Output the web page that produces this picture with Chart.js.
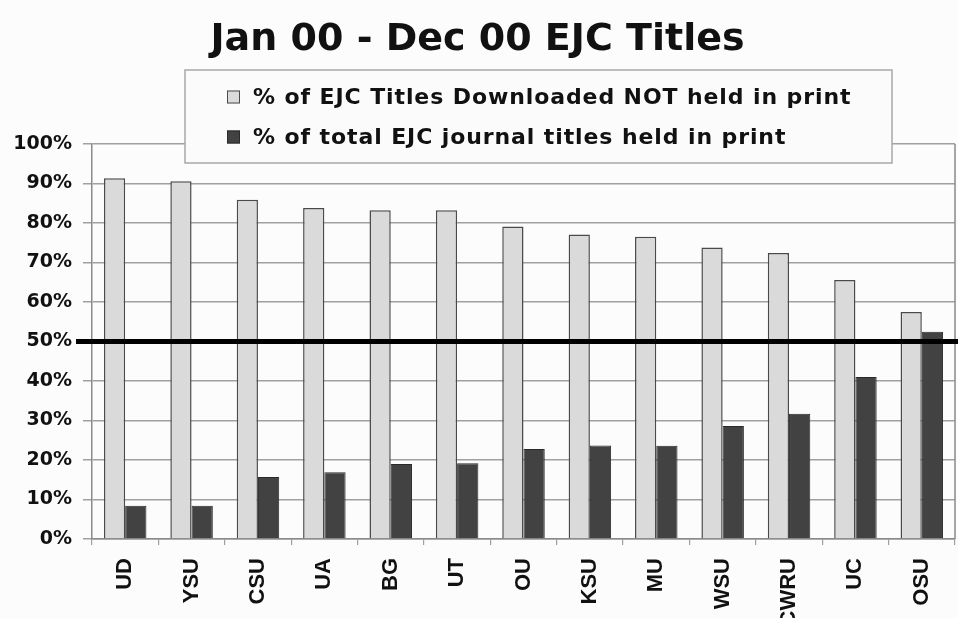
<!DOCTYPE html>
<html>
<head>
<meta charset="utf-8">
<title>Jan 00 - Dec 00 EJC Titles</title>
<script src="https://cdn.jsdelivr.net/npm/chart.js@4.4.1/dist/chart.umd.min.js"></script>
<style>
  html, body { margin: 0; padding: 0; background: #fcfcfc; }
  canvas { display: block; }
</style>
</head>
<body>
<canvas id="chart" width="958" height="618"></canvas>
<script>
// Institutions, in the order they are plotted
const categories = ['UD', 'YSU', 'CSU', 'UA', 'BG', 'UT', 'OU', 'KSU', 'MU', 'WSU', 'CWRU', 'UC', 'OSU'];

// % of EJC titles downloaded that are NOT held in print
const pctDownloadedNotInPrint = [91.3, 90.6, 85.9, 83.8, 83.2, 83.2, 79.1, 77.1, 76.5, 73.8, 72.4, 65.6, 57.5];

// % of total EJC journal titles held in print
const pctHeldInPrint = [8.4, 8.4, 15.7, 16.9, 19.0, 19.2, 22.8, 23.7, 23.6, 28.6, 31.7, 41.0, 52.5];

const seriesNames = [
  '% of EJC Titles Downloaded NOT held in print',
  '% of total EJC journal titles held in print'
];

// Percent axis: 0% .. 100% in steps of 10
const yMin = 0;
const yMax = 100;
const yStep = 10;

// Reference line drawn across the plot
const referenceLevel = 50;

const LIGHT_FILL = '#dadada';
const LIGHT_EDGE = '#4a4a4a';
const DARK_FILL = '#424242';
const DARK_EDGE = '#2a2a2a';
const GRID = '#a0a0a0';
const TEXT = '#111111';

// Page background
const backgroundPlugin = {
  id: 'background',
  beforeDraw(chart) {
    const { ctx, width, height } = chart;
    ctx.save();
    ctx.fillStyle = '#fcfcfc';
    ctx.fillRect(0, 0, width, height);
    ctx.restore();
  }
};

// Right frame edge and the heavy 50% line across the bars
const frameAndLinePlugin = {
  id: 'frameAndLine',
  afterDatasetsDraw(chart) {
    const { ctx, chartArea, width } = chart;
    const y = chart.scales.y.getPixelForValue(referenceLevel);
    ctx.save();
    ctx.strokeStyle = '#8a8a8a';
    ctx.lineWidth = 1.5;
    ctx.beginPath();
    ctx.moveTo(chartArea.right, chartArea.top);
    ctx.lineTo(chartArea.right, chartArea.bottom);
    ctx.stroke();

    ctx.strokeStyle = '#000000';
    ctx.lineWidth = 5;
    ctx.beginPath();
    ctx.moveTo(chartArea.left - 16, y);
    ctx.lineTo(width, y);
    ctx.stroke();
    ctx.restore();
  }
};

// Boxed legend overlapping the top of the plot
const boxedLegendPlugin = {
  id: 'boxedLegend',
  afterDraw(chart) {
    const { ctx } = chart;
    const box = { x: 185, y: 70, w: 707, h: 93 };
    ctx.save();
    ctx.fillStyle = '#fbfbfb';
    ctx.fillRect(box.x, box.y, box.w, box.h);
    ctx.strokeStyle = '#a8a8a8';
    ctx.lineWidth = 1.5;
    ctx.strokeRect(box.x, box.y, box.w, box.h);

    const rows = [97, 137];
    chart.data.datasets.forEach((ds, i) => {
      const cy = rows[i];
      ctx.fillStyle = ds.backgroundColor;
      ctx.fillRect(227, cy - 6.5, 13, 13);
      ctx.strokeStyle = ds.borderColor;
      ctx.lineWidth = 1;
      ctx.strokeRect(227.5, cy - 6, 12, 12);

      ctx.fillStyle = TEXT;
      ctx.font = 'bold 22px "DejaVu Sans"';
      ctx.textBaseline = 'middle';
      ctx.textAlign = 'left';
      if ('letterSpacing' in ctx) ctx.letterSpacing = '0.9px';
      ctx.fillText(ds.label, 253, cy + 1);
    });
    ctx.restore();
  }
};

new Chart(document.getElementById('chart'), {
  type: 'bar',
  data: {
    labels: categories,
    datasets: [
      {
        label: seriesNames[0],
        data: pctDownloadedNotInPrint,
        backgroundColor: LIGHT_FILL,
        borderColor: LIGHT_EDGE,
        borderWidth: 1.5
      },
      {
        label: seriesNames[1],
        data: pctHeldInPrint,
        backgroundColor: DARK_FILL,
        borderColor: DARK_EDGE,
        borderWidth: 1
      }
    ]
  },
  options: {
    responsive: false,
    animation: false,
    devicePixelRatio: 1,
    layout: { padding: { top: 0, left: 0, right: 3, bottom: 0 } },
    datasets: {
      bar: { categoryPercentage: 0.64, barPercentage: 1.0 }
    },
    plugins: {
      legend: { display: false },
      tooltip: { enabled: false },
      title: {
        display: true,
        text: 'Jan 00 - Dec 00 EJC Titles',
        color: TEXT,
        font: { family: '"DejaVu Sans"', weight: 'bold', size: 38 },
        padding: { top: 17, bottom: 81.4 }
      }
    },
    scales: {
      x: {
        grid: {
          display: true,
          drawOnChartArea: false,
          drawTicks: true,
          tickLength: 6,
          color: GRID,
          lineWidth: 1.2
        },
        border: { display: true, color: '#8a8a8a', width: 1.5 },
        ticks: {
          autoSkip: false,
          minRotation: 90,
          maxRotation: 90,
          padding: 13,
          color: TEXT,
          font: { family: '"Liberation Sans", Arial, sans-serif', weight: 'bold', size: 22 }
        },
        afterFit(scale) {
          scale.height = 79;
          scale.paddingLeft = 0;
          scale.paddingRight = 0;
        }
      },
      y: {
        min: yMin,
        max: yMax,
        grid: {
          color: GRID,
          lineWidth: 1.5,
          drawTicks: true,
          tickLength: 9
        },
        border: { display: true, color: '#8a8a8a', width: 1.5 },
        ticks: {
          stepSize: yStep,
          padding: 11,
          color: TEXT,
          font: { family: '"DejaVu Sans"', weight: 'bold', size: 19 },
          callback: (v) => v + '%'
        },
        afterFit(scale) { scale.width = 92; }
      }
    }
  },
  plugins: [backgroundPlugin, frameAndLinePlugin, boxedLegendPlugin]
});
</script>
</body>
</html>
